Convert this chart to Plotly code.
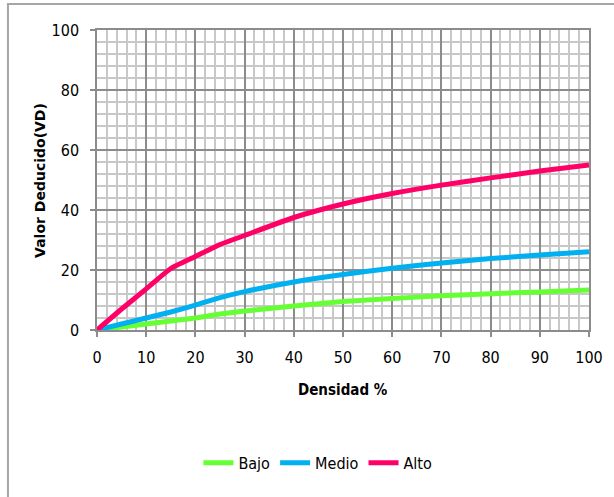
import plotly.graph_objects as go

# Densidad (%) y valor deducido por nivel de severidad
densidad = [0, 5, 10, 15, 20, 25, 30, 40, 50, 60, 70, 80, 90, 100]
bajo = [0, 1.0, 2.0, 3.0, 4.0, 5.3, 6.3, 8.0, 9.5, 10.5, 11.4, 12.1, 12.7, 13.3]
medio = [0, 2.0, 4.0, 6.0, 8.3, 10.8, 12.8, 16.0, 18.5, 20.6, 22.3, 23.8, 25.0, 26.1]
alto = [0, 7.0, 13.7, 20.5, 24.5, 28.5, 31.5, 37.5, 42.0, 45.5, 48.3, 50.7, 53.0, 55.0]

series = [
    ("Bajo", bajo, "#66FF33"),
    ("Medio", medio, "#00B0F0"),
    ("Alto", alto, "#FF0066"),
]

NARROW = "DejaVu Sans Condensed, Liberation Sans Narrow, Arial Narrow, sans-serif"
tick_font = dict(family=NARROW, size=16, color="#000")

fig = go.Figure()
for name, vals, color in series:
    fig.add_trace(go.Scatter(
        x=densidad, y=vals, name=name, mode="lines",
        line=dict(color=color, width=5, shape="spline", smoothing=0.5),
    ))

axis_common = dict(
    showgrid=True, gridcolor="#8c8c8c", gridwidth=1.5,
    showline=True, linecolor="#8c8c8c", linewidth=1.5, mirror=True,
    ticks="outside", ticklen=5, tickcolor="#8c8c8c", tickwidth=1.5,
    zeroline=False, tickfont=tick_font,
)

fig.update_xaxes(
    range=[0, 100], dtick=10, tick0=0, ticklabelstandoff=7,
    minor=dict(dtick=2, showgrid=True, gridcolor="#c8c8c8", gridwidth=1.5, ticks=""),
    **axis_common,
)
fig.update_yaxes(
    range=[0, 100], dtick=20, tick0=0, ticklabelstandoff=8,
    minor=dict(dtick=4, showgrid=True, gridcolor="#c8c8c8", gridwidth=1.5, ticks=""),
    **axis_common,
)

fig.update_layout(
    width=614, height=497,
    margin=dict(l=97, r=25, t=30, b=167),
    paper_bgcolor="white", plot_bgcolor="white",
    showlegend=True,
    legend=dict(
        orientation="h", x=0.449, xanchor="center", y=-0.443, yanchor="middle",
        font=dict(family=NARROW, size=16, color="#000"),
        itemwidth=30, tracegroupgap=0, bgcolor="rgba(0,0,0,0)",
    ),
    annotations=[
        dict(text="<b>Densidad %</b>", xref="paper", yref="paper", x=0.5, y=-0.2,
             xanchor="center", yanchor="middle", showarrow=False,
             font=dict(family=NARROW, size=15, color="#000")),
        dict(text="<b>Valor Deducido(VD)</b>", xref="paper", yref="paper", x=-0.116, y=0.5,
             xanchor="center", yanchor="middle", showarrow=False, textangle=-90,
             font=dict(family="DejaVu Sans, Verdana, sans-serif", size=14, color="#000")),
    ],
    shapes=[
        dict(type="rect", xref="paper", yref="paper", x0=-0.181, y0=-0.75, x1=1.2, y1=1.087,
             line=dict(color="#a6a6a6", width=2), fillcolor="rgba(0,0,0,0)", layer="below"),
    ],
)

fig.write_html("out.html")
